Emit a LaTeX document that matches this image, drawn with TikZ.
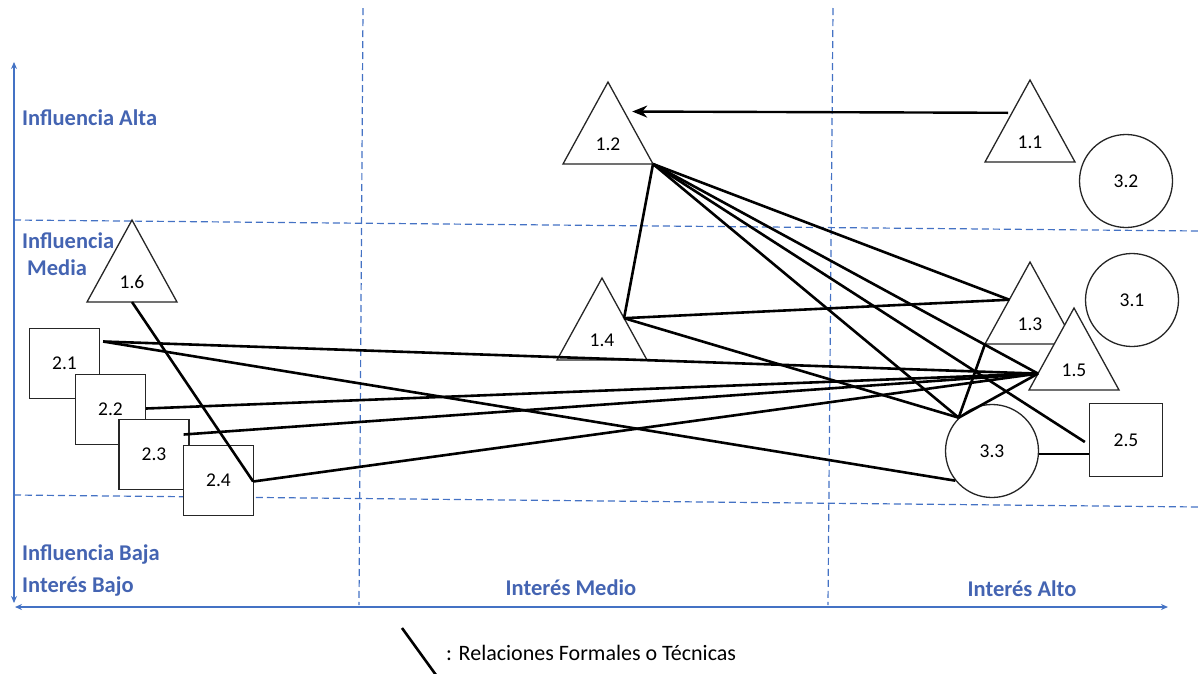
\documentclass[tikz,border=0pt]{standalone}
\usepackage{fontspec}
\setmainfont{Carlito}
\usetikzlibrary{arrows.meta,calc}
\definecolor{axisblue}{RGB}{68,114,196}
\definecolor{lblblue}{RGB}{68,100,178}
\newcommand\trishape[4]{%
  \draw[shp] (#2,#3) coordinate (#1-apex) -- (#2+45,#3+82) coordinate (#1-br)
     -- (#2-45,#3+82) coordinate (#1-bl) -- cycle;
  \coordinate (#1-bc) at (#2,#3+82);
  \node[num] (#1) at (#2,#3+62) {#4};}
\begin{document}
\begin{tikzpicture}[x=1pt,y=-1pt,
  shp/.style={draw=black!85,line width=1.3pt,fill=white},
  num/.style={font=\fontsize{19.5}{21}\selectfont,inner sep=0pt},
  sq/.style={shp,minimum size=70pt,inner sep=0pt,font=\fontsize{19.5}{21}\selectfont},
  circ/.style={shp,circle,minimum size=93pt,inner sep=0pt,font=\fontsize{19.5}{21}\selectfont},
  link/.style={line width=2.6pt,black},
  gridline/.style={axisblue,line width=1.2pt,dash pattern=on 7pt off 4pt},
  axisline/.style={axisblue,line width=1.4pt,{Stealth[length=7pt,width=6pt]}-{Stealth[length=7pt,width=6pt]}},
  lbl/.style={text=lblblue,font=\bfseries\fontsize{22.5}{25}\selectfont,inner sep=0pt,anchor=west},
  legtext/.style={anchor=west,inner sep=0pt,font=\fontsize{22}{24}\selectfont}
]
\useasboundingbox (0,0) rectangle (1199,673);
% grid
\coordinate (h1a) at (14,220); \coordinate (h1b) at (1199,231);
\coordinate (h2a) at (14,495); \coordinate (h2b) at (1199,507);
\coordinate (v1a) at (363,8);  \coordinate (v1b) at (359,605);
\coordinate (v2a) at (833,8);  \coordinate (v2b) at (828,605);
\draw[gridline] (h1a) -- (h1b);
\draw[gridline] (h2a) -- (h2b);
\draw[gridline] (v1a) -- (v1b);
\draw[gridline] (v2a) -- (v2b);
% axes
\coordinate (ytop) at (14,62); \coordinate (ybot) at (14,603);
\coordinate (xl) at (15,607); \coordinate (xr) at (1168,607);
\draw[axisline] (ybot) -- (ytop);
\draw[axisline] (xl) -- (xr);
% labels
\node[lbl] (la) at (22,118) {Influencia Alta};
\node[lbl] (lm1) at (22,241) {Influencia};
\node[lbl] (lm2) at (27,268) {Media};
\node[lbl] (lb) at (22,554) {Influencia Baja};
\node[lbl] (ib) at (22,586) {Interés Bajo};
\node[lbl,anchor=center] (im) at (571,588) {Interés Medio};
\node[lbl,anchor=center] (ia) at (1022,589) {Interés Alto};
% shapes
\trishape{t12}{608}{82}{1.2}
\trishape{t11}{1030}{80}{1.1}
\trishape{t16}{132}{220}{1.6}
\trishape{t14}{602}{278}{1.4}
\trishape{t13}{1030}{262}{1.3}
\trishape{t15}{1074}{308}{1.5}
\node[circ] (c32) at (1126,181) {3.2};
\node[circ] (c31) at (1132,300) {3.1};
\node[circ] (c33) at (992,451) {3.3};
\node[sq] (s21) at (64.5,363.5) {2.1};
\node[sq] (s22) at (110.5,409.5) {2.2};
\node[sq] (s23) at (154,454.5) {2.3};
\node[sq] (s24) at (218.5,480.5) {2.4};
\node[sq,minimum size=73pt] (s25) at (1126,440) {2.5};
% attachment points
\coordinate (p13) at ($(t13-apex)!0.46!(t13-bl)$);
\coordinate (p15) at ($(t15-apex)!0.8!(t15-bl)$);
\coordinate (p14) at ($(t14-apex)!0.49!(t14-br)$);
\coordinate (a11) at ($(t11-apex)!0.4!(t11-bl)+(-4,0)$);
\coordinate (a12) at ($(t12-apex)!0.36!(t12-br)+(8,0)$);
% connectors
\draw[line width=2.4pt,-{Stealth[length=15pt,width=12pt]}] (a11) -- (a12);
\draw[link] (t12-br) -- (p13);
\draw[link] (t12-br) -- (p15);
\draw[link] (t12-br) -- ([xshift=-4pt,yshift=-2pt]s25.west);
\draw[link] (t12-br) -- (c33.135);
\draw[link] (t12-br) -- (p14);
\draw[link] (p14) -- (p13);
\draw[link] (p14) -- (c33.135);
\draw[link] (c33.135) -- (t13-bl);
\draw[link] (c33.135) -- (p15);
\draw[link] ([xshift=3pt,yshift=22pt]s21.east) -- (p15);
\draw[link] ([xshift=3pt,yshift=22pt]s21.east) -- (c33.219);
\draw[link] ([yshift=1pt]s22.east) -- (p15);
\draw[link] ([xshift=-6pt,yshift=20pt]s23.east) -- (p15);
\draw[link] ([xshift=-1pt,yshift=-1pt]s24.east) -- (p15);
\draw[link] (t16-bc) -- ([xshift=-1pt,yshift=-1pt]s24.east);
\draw[link] ([yshift=-3pt]c33.east) -- ([yshift=-14pt]s25.west);
% legend
\coordinate (lg1) at (402,628); \coordinate (lg2) at (436,675);
\draw[link] (lg1) -- (lg2);
\node[legtext] (leg) at (446,653) {: Relaciones Formales o Técnicas};
\end{tikzpicture}
\end{document}
